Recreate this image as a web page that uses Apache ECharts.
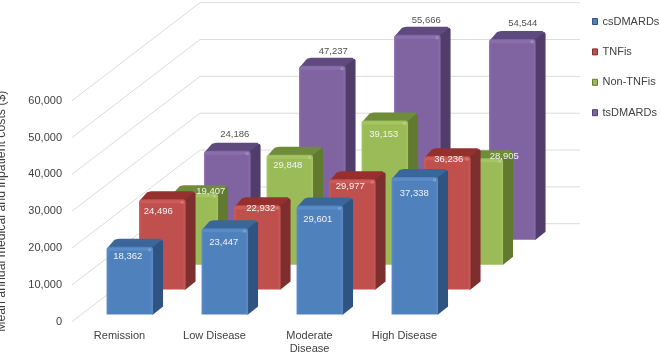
<!DOCTYPE html>
<html><head><meta charset="utf-8">
<style>html,body{margin:0;padding:0;background:#fff}#c{width:661px;height:354px}</style>
<script src="https://cdn.jsdelivr.net/npm/echarts@6/dist/echarts.min.js"></script>
</head><body><div id="c"></div>
<script>
var categories = ['Remission', 'Low Disease', 'Moderate\nDisease', 'High Disease'];
var csDMARDs = [18362, 23447, 29601, 37338];
var TNFis = [24496, 22932, 29977, 36236];
var NonTNFis = [19407, 29848, 39153, 28905];
var tsDMARDs = [24186, 47237, 55666, 54544];
var seriesNames = ['csDMARDs', 'TNFis', 'Non-TNFis', 'tsDMARDs'];
var gridTicks = [0, 10000, 20000, 30000, 40000, 50000, 60000];

var seriesValues = [csDMARDs, TNFis, NonTNFis, tsDMARDs];
// appearance: face colours per series [front, front light, side, top]
var palette = [
  ['#4f81bd', '#5b8cc8', '#2f5482', '#3a6699'],
  ['#c0504d', '#cb5c59', '#7d2f2d', '#96302e'],
  ['#9bbb59', '#a5c563', '#627a30', '#6f8c3a'],
  ['#8064a2', '#8b6fad', '#503d6b', '#5f4a80']
];
// manual label nudges (px from top-centre of the front face), per series then category
var labelNudge = [
  [[-2, 10], [-1, 14], [-2, 14], [-0.5, 16]],
  [[-4, 12], [3.5, 3], [-2, 7], [1.5, 3]],
  [[16, -2], [-2, 11], [-1, 14], [24.5, -1.5]],
  [[7.5, -16], [11, -14], [9, -14], [10.5, -16]]
];
var labelColor = ['#f2f2f2', '#f2f2f2', '#f2f2f2', '#505050'];
var DEPTH_X = 128, DEPTH_Y = 98;
var SLOT_X = 32.5, SLOT_Y = 24.9, START_X = 10.3, START_Y = 7.2;
var BAR_W = 46.5, SIDE_X = 10, SIDE_Y = 8;

function barGeom(api, s) {
  var p0 = api.coord([api.value(0), 0]);
  var p1 = api.coord([api.value(0), api.value(1)]);
  var ox = START_X + s * SLOT_X, oy = START_Y + s * SLOT_Y;
  return { l: p0[0] - BAR_W / 2 + ox, r: p0[0] + BAR_W / 2 + ox, b: p0[1] - oy, t: p1[1] - oy };
}
function barItem(s) {
  var c = palette[s];
  return function (params, api) {
    var g = barGeom(api, s), l = g.l, r = g.r, t = g.t, b = g.b, R = 3;
    return { type: 'group', children: [
      { type: 'polygon', shape: { points: [[l + 1, t + 1], [l + SIDE_X - 2, t - SIDE_Y + 1], [l + SIDE_X + 2, t - SIDE_Y], [r + SIDE_X - 3, t - SIDE_Y], [r + SIDE_X, t - SIDE_Y + 3], [r, t + 2]] }, style: { fill: c[3] } },
      { type: 'polygon', shape: { points: [[r - 1, t + 1], [r + SIDE_X - 1, t - SIDE_Y + 1], [r + SIDE_X, t - SIDE_Y + 3], [r + SIDE_X, b - SIDE_Y], [r, b], [r - 1, b]] }, style: { fill: c[2] } },
      { type: 'rect', shape: { x: l, y: t, width: r - l, height: b - t, r: [R, R, 0, 0] },
        style: { fill: { type: 'linear', x: 0, y: 0, x2: 1, y2: 0, colorStops: [
          { offset: 0, color: c[1] }, { offset: 0.06, color: c[0] }, { offset: 0.94, color: c[0] }, { offset: 1, color: c[1] } ] } } },
      { type: 'rect', shape: { x: l + 1, y: t + 1, width: r - l - 2, height: 3, r: [2, 2, 0, 0] }, style: { fill: c[1] } },
      { type: 'rect', shape: { x: r - 5, y: t + 1.5, width: 3, height: 3 }, style: { fill: 'rgba(255,255,255,0.18)' } }
    ] };
  };
}
function labelItem(s) {
  return function (params, api) {
    var g = barGeom(api, s), n = labelNudge[s][params.dataIndex];
    return { type: 'text', style: {
      x: (g.l + g.r) / 2 + n[0], y: g.t + n[1], text: api.value(1).toLocaleString('en-US'),
      fill: labelColor[s], font: '9.5px "Liberation Sans", Arial, sans-serif', align: 'center', verticalAlign: 'middle'
    } };
  };
}
function gridItem(params, api) {
  var p = api.coord([0, api.value(0)]);
  var x0 = params.coordSys.x, x1 = x0 + params.coordSys.width, y = p[1];
  return { type: 'polyline', shape: { points: [[x0, y], [x0 + DEPTH_X, y - DEPTH_Y], [x1 + DEPTH_X, y - DEPTH_Y]] },
    style: { fill: 'none', stroke: '#dcdcdc', lineWidth: 1 } };
}

var series = [{
  type: 'custom', z: 1, silent: true, coordinateSystem: 'cartesian2d', clip: false,
  data: gridTicks.map(function (v) { return [v]; }), encode: { y: 0 }, renderItem: gridItem
}];
[3, 2, 1, 0].forEach(function (s) {
  series.push({
    name: seriesNames[s], type: 'custom', z: 5 - s + 1, clip: false,
    itemStyle: { color: palette[s][0] },
    data: seriesValues[s].map(function (v, i) { return [i, v]; }),
    encode: { x: 0, y: 1 }, renderItem: barItem(s)
  });
});
[3, 2, 1, 0].forEach(function (s) {
  series.push({
    type: 'custom', z: 20, silent: true, clip: false,
    data: seriesValues[s].map(function (v, i) { return [i, v]; }),
    encode: { x: 0, y: 1 }, renderItem: labelItem(s)
  });
});

var chart = echarts.init(document.getElementById('c'), null, { renderer: 'canvas' });
chart.setOption({
  animation: false,
  backgroundColor: '#fff',
  textStyle: { fontFamily: '"Liberation Sans", Arial, sans-serif' },
  grid: { left: 72, right: 209, top: 100.7, bottom: 32.3, containLabel: false, outerBoundsMode: 'none' },
  xAxis: { type: 'category', data: categories,
    axisLine: { show: false }, axisTick: { show: false }, splitLine: { show: false },
    axisLabel: { color: '#404040', fontSize: 11, margin: 8, lineHeight: 13, interval: 0 } },
  yAxis: { type: 'value', min: 0, max: 60000, interval: 10000,
    name: 'Mean annual medical and inpatient costs ($)', nameLocation: 'middle', nameRotate: 90, nameGap: 64,
    nameTextStyle: { color: '#404040', fontSize: 12.3 },
    axisLine: { show: false }, axisTick: { show: false }, splitLine: { show: false },
    axisLabel: { color: '#404040', fontSize: 11, margin: 10, formatter: function (v) { return v.toLocaleString('en-US'); } } },
  legend: { orient: 'vertical', left: 592, top: 16, itemWidth: 5, itemHeight: 6, itemGap: 19.4, icon: 'rect',
    selectedMode: false, padding: 0,
    textStyle: { color: '#404040', fontSize: 11 },
    data: seriesNames.map(function (n, i) { return { name: n, itemStyle: { color: palette[i][0], borderColor: palette[i][2], borderWidth: 1 } }; }) },
  series: series
});
</script></body></html>
